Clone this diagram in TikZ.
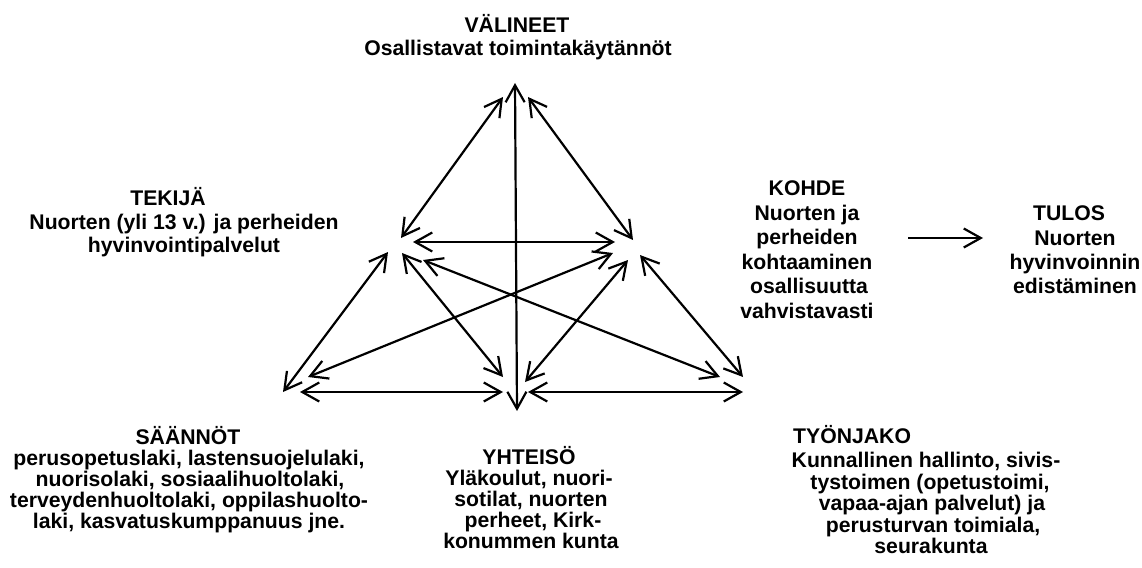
\documentclass[tikz,border=0pt]{standalone}
\usepackage{fontspec}
\setmainfont{Liberation Sans}
\usetikzlibrary{arrows.meta}
\begin{document}
\begin{tikzpicture}[x=1pt,y=-1pt,
  >={Straight Barb[length=17pt,width=19pt]},
  lab/.style={font=\fontsize{21.2}{24}\selectfont\bfseries, inner sep=0pt, anchor=base},
  labw/.style={lab, anchor=base west},
  link/.style={line width=2.2pt, <->},
  flow/.style={line width=2.2pt, ->}]
\useasboundingbox (0,0) rectangle (1142,567);

% ---- labels ----
\node[lab] (v1) at (517,33) {VÄLINEET};
\node[lab] (v2) at (518,56) {Osallistavat toimintakäytännöt};

\node[lab] (t1) at (168,205) {TEKIJÄ};
\node[lab] (t2) at (184,229) {Nuorten (yli 13 v.) ja perheiden};
\node[lab] (t3) at (184,252) {hyvinvointipalvelut};

\node[lab] (k1) at (807,195) {KOHDE};
\node[lab] (k2) at (807,220) {Nuorten ja};
\node[lab] (k3) at (807,244) {perheiden};
\node[lab] (k4) at (807,269) {kohtaaminen};
\node[lab] (k5) at (809,293) {osallisuutta};
\node[lab] (k6) at (807,318) {vahvistavasti};

\node[lab] (u1) at (1069,220) {TULOS};
\node[lab] (u2) at (1075,245) {Nuorten};
\node[lab] (u3) at (1075,269) {hyvinvoinnin};
\node[lab] (u4) at (1075,293) {edistäminen};

\node[lab] (s1) at (188,444) {SÄÄNNÖT};
\node[lab] (s2) at (189,465) {perusopetuslaki, lastensuojelulaki,};
\node[lab] (s3) at (190,486) {nuorisolaki, sosiaalihuoltolaki,};
\node[lab] (s4) at (189,507) {terveydenhuoltolaki, oppilashuolto-};
\node[lab] (s5) at (189,528) {laki, kasvatuskumppanuus jne.};

\node[lab] (y1) at (529,464) {YHTEISÖ};
\node[lab] (y2) at (529,485) {Yläkoulut, nuori-};
\node[lab] (y3) at (531,506) {sotilat, nuorten};
\node[lab] (y4) at (533,527) {perheet, Kirk-};
\node[lab] (y5) at (531,548) {konummen kunta};

\node[labw] (w1) at (793,443) {TYÖNJAKO};
\node[lab] (w2) at (926,467) {Kunnallinen hallinto, sivis-};
\node[lab] (w3) at (930,489) {tystoimen (opetustoimi,};
\node[lab] (w4) at (932,510.5) {vapaa-ajan palvelut) ja};
\node[lab] (w5) at (933,532) {perusturvan toimiala,};
\node[lab] (w6) at (931,553.5) {seurakunta};

% ---- connector end points ----
\coordinate (VS) at (503,97);   \coordinate (SV) at (401,238);
\coordinate (VO) at (528,97);   \coordinate (OV) at (633,240);
\coordinate (VC) at (515,83);   \coordinate (CV) at (517,411);
\coordinate (SO) at (413,242);  \coordinate (OS) at (615,242);
\coordinate (SR) at (388,252);  \coordinate (RS) at (283,392);
\coordinate (SC) at (402,253);  \coordinate (CS) at (503,377);
\coordinate (SD) at (423,260);  \coordinate (DS) at (720,377);
\coordinate (OR) at (613,253);  \coordinate (RO) at (308,377);
\coordinate (OC) at (628,260);  \coordinate (CO) at (525,382);
\coordinate (OD) at (640,255);  \coordinate (DO) at (743,377);
\coordinate (RC) at (300,392);  \coordinate (CR) at (503,392);
\coordinate (CD) at (528,392);  \coordinate (DC) at (743,392);
\coordinate (KT) at (908,238);  \coordinate (TK) at (983,238);

% ---- connectors ----
\draw[link] (VS) -- (SV);
\draw[link] (VO) -- (OV);
\draw[link] (VC) -- (CV);
\draw[link] (SO) -- (OS);
\draw[link] (SR) -- (RS);
\draw[link] (SC) -- (CS);
\draw[link] (SD) -- (DS);
\draw[link] (OR) -- (RO);
\draw[link] (OC) -- (CO);
\draw[link] (OD) -- (DO);
\draw[link] (RC) -- (CR);
\draw[link] (CD) -- (DC);
\draw[flow] (KT) -- (TK);
\end{tikzpicture}
\end{document}
